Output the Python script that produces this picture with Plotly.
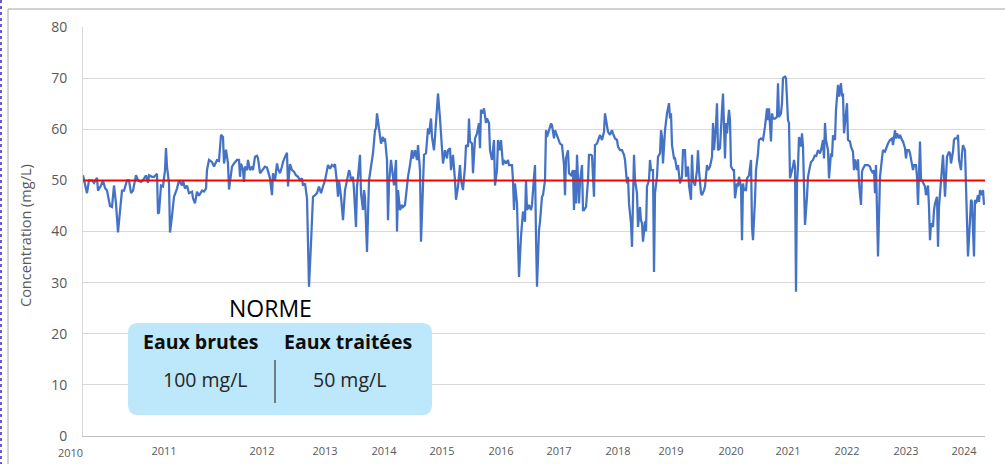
import plotly.graph_objects as go

# ---------------- data ----------------
# sample number along the category axis (one measurement per sample)
sample_no = [
    0, 2, 4, 6, 9, 11, 14, 15, 18, 20, 22, 24, 27, 29, 31, 33, 35, 37, 39, 41, 44, 46, 48, 50, 53,
    55, 58, 60, 63, 65, 66, 69, 71, 74, 75, 76, 78, 80, 82, 83, 84, 86, 87, 89, 91, 94, 96, 99, 100, 102,
    104, 106, 109, 110, 112, 114, 116, 119, 121, 123, 124, 126, 129, 131, 134, 136, 138, 140, 141, 143, 145, 146, 149, 151,
    154, 156, 157, 158, 160, 161, 162, 164, 165, 167, 169, 170, 172, 174, 175, 177, 179, 182, 184, 185,
    187, 189, 190, 192, 194, 195, 197, 199, 200, 202, 204, 205, 207, 209, 211, 213, 215, 217, 219, 220,
    222, 224, 225, 226, 228, 230, 232, 234, 236, 238, 240, 242, 244, 245, 247, 249, 251, 252, 254, 255,
    256, 258, 260, 261, 262, 264, 266, 267, 268, 270, 271, 273, 274, 275, 277, 278, 280, 281, 282, 284,
    285, 286, 288, 290, 292, 293, 294, 296, 298, 300, 301,
    302, 304, 305, 306, 308, 309, 311, 313, 314, 315, 317, 319, 320, 322, 324, 325, 327, 329, 330, 332,
    334, 335, 337, 338, 340, 341, 343, 345, 346, 348, 349, 351, 352, 354, 355, 357, 359, 360, 362, 364,
    365, 367, 368, 370, 372, 373, 375, 377, 378, 380, 382, 383, 385, 386, 387, 389, 390, 392, 394, 396,
    397, 398, 400, 401, 403, 404, 406, 407, 409, 411, 412, 414, 415, 417, 418, 420, 421, 423, 425, 426,
    429, 430, 431, 432, 434, 435, 436, 438, 439, 440, 442, 443, 444, 446, 448, 449, 451,
    452, 453, 454, 456, 457, 459, 460, 462, 463, 464, 466, 468, 469, 471, 472, 474, 476, 477, 479, 481,
    482, 483, 485, 486, 488, 490, 491, 492, 493, 494, 496, 497, 499, 500, 501, 503, 505, 506, 508, 509,
    511, 512, 514, 515, 517, 519, 520, 521, 522, 524, 525, 527, 529, 530, 532, 534, 535, 537, 539, 541,
    542, 544, 545, 546, 548, 549, 550, 551, 552, 554, 555, 557, 558, 559, 560, 562, 563, 564, 566, 567,
    568, 570, 571, 572, 574, 575, 577, 578, 579, 580, 582, 583, 584, 586, 587, 588, 589, 591, 592, 594,
    595, 597, 599, 600,
    602, 603, 605, 606, 608, 609, 610, 612, 614, 615, 616, 618, 619, 621, 622, 624, 625, 627, 629, 630,
    631, 633, 634, 635, 637, 639, 640, 642, 643, 644, 646, 647, 648, 650, 651, 652, 654, 655, 656, 658,
    659, 660, 661, 663, 664, 666, 668, 669, 670, 672, 673, 675, 676, 678, 680, 681, 682, 684, 685, 686,
    688, 689, 690, 692, 694, 695, 696, 698, 699, 700, 702, 703, 705, 706, 707, 709, 710, 711, 712, 713,
    714, 715, 716, 718, 719, 720, 721, 722, 724, 725, 727, 728, 730, 732, 733, 735, 737, 738, 740, 741,
    742, 743, 745, 746, 748, 749, 750,
    752, 753, 755, 756, 758, 759, 760, 761, 763, 764, 765, 767, 768, 770, 771, 772, 774, 775, 776, 778,
    779, 780, 782, 784, 785, 787, 788, 790, 791, 792, 793, 795, 796, 797, 799, 800, 802, 804, 805, 807,
    809, 810, 812, 813, 814, 816, 817, 819, 820, 822, 823, 824, 826, 827, 829, 830, 831, 833, 834, 835,
    837, 838, 839, 841, 842, 843, 845, 846, 847, 848, 850, 851, 852, 854, 855, 856, 858, 859, 860, 862,
    863, 864, 866, 867, 868, 870, 871, 872, 874, 875, 876, 878, 879, 880, 882, 883, 884, 885, 887, 888,
    889, 891, 892, 893, 895, 896, 897, 899, 900, 901,
]

# concentration in mg/L
concentration = [
    51, 49, 47.5, 50, 50, 49.5, 50.5, 48, 49, 50, 48.5, 48, 45, 44.8, 49, 45.5, 39.8, 44, 48, 48, 50, 50, 47.5, 48, 51,
    50, 49.7, 50, 51, 49.5, 51, 50.7, 50.7, 51.3, 43.5, 43.7, 49, 48.8, 52, 56.3, 52.7, 49.4, 39.8, 43, 46.8, 48.4, 50, 49, 50, 48.4,
    49, 47.5, 47.8, 46.5, 45.5, 47.8, 47, 48, 47.8, 48.4, 52, 54, 53.6, 52.7, 54, 53.8, 58.9, 58.5, 53.3, 56, 53.3, 48.2, 52.7, 53.3,
    54, 54, 50.7, 53.3, 52, 49.7, 52.7, 52, 54, 52, 52.7, 52, 54.6, 54.8, 54.3, 51.4, 52, 52.7, 52.5, 51.7,
    50.4, 47.1, 51.4, 50, 53.3, 52.3, 51.4, 52.7, 53.6, 54.6, 55.4, 48.8, 53.2, 52, 51.7, 51, 50.7, 50, 50.4, 49,
    49.4, 46.5, 39, 29.2, 37.7, 46.8, 47.1, 47.5, 48.8, 47.5, 48.8, 50, 52, 53, 52.3, 53, 52.7, 53.2, 49.4, 46.8,
    50, 46.8, 42.2, 46.8, 48.1, 50, 52, 51.4, 50, 50.7, 48.1, 40.9, 48.8, 50.7, 55, 47.5, 44.2, 48.1, 46.8, 36,
    46.8, 50, 52.7, 55.3, 59.8, 60.2, 63.1, 59.8, 57.2, 58.5, 57.6,
    58.2, 54, 42.2, 49.4, 54, 52, 49, 54, 40, 48.1, 44.2, 45.2, 44.8, 45.2, 49.7, 50.7, 53, 55.9, 54.3, 55.9,
    54, 56.9, 52, 38, 49, 55, 55.3, 60.2, 59, 62.1, 58.5, 55.9, 58.5, 64.1, 67, 62.1, 55.3, 53.3, 55.9, 54.3,
    55.9, 56.3, 52, 55, 50, 46.2, 48.8, 53, 50, 48.1, 52.7, 56.9, 56.6, 62.1, 57.6, 57.2, 51.4, 58.2, 59.2, 61.2,
    56.3, 63.8, 63.1, 64.1, 61.2, 62.1, 61.2, 55.9, 54, 57.9, 49, 52, 57.9, 55.9, 57.9, 53, 54, 53.3, 54, 53,
    53, 50, 44.2, 49.4, 45.5, 39, 31.1, 39, 42.9, 43.9, 41.9, 50, 44.2, 45.2, 44.2, 45.2, 50.7,
    53, 39, 29.2, 40.3, 41.9, 46.8, 47.1, 50, 59.8, 58.5, 59.8, 61.1, 60.8, 58.2, 59.8, 58.8, 57.9, 57.2, 56.9, 53,
    47.1, 54.3, 55.9, 51.4, 51, 52, 44.2, 52, 45.5, 55, 45.5, 49.7, 53, 44.2, 44.2, 44.8, 50, 55, 55, 54.8,
    46.8, 56.9, 57.2, 57.9, 58.9, 57.9, 58.9, 59.5, 63.1, 60.2, 59.5, 58.9, 59.8, 59.2, 58.2, 57.9, 56.6, 55.9, 55.9, 55,
    54, 49.4, 50.7, 45.5, 41.6, 37, 47.5, 55, 50, 47.5, 40.9, 44.8, 42.2, 41.6, 38, 42, 40, 48.8, 50, 54,
    52, 52, 32.1, 47.5, 50.7, 54.6, 55.3, 59.8, 58.5, 53.3, 59.8, 62.4, 63.1, 65.1, 62.1, 63.1, 56.9, 54.3, 54.3, 52,
    53, 49.4, 50.7, 55.9,
    55.9, 50.7, 52.7, 49, 46.2, 55, 50, 49, 52, 55.9, 52, 47.5, 47.1, 48.1, 48.8, 53, 52, 52.7, 54.6, 61.2,
    55.9, 60.8, 65.1, 55.9, 56.3, 63.8, 67, 54.3, 61.2, 59.2, 63.8, 61.8, 52.7, 52, 52, 46.5, 49.4, 48.8, 50.7, 48.8,
    38.3, 49.4, 48.1, 48.1, 50.4, 51, 54, 40.9, 38.3, 46.2, 52, 55.3, 57.9, 58.2, 57.9, 59.2, 60.5, 64.1, 61.8, 64.1,
    57.6, 63.1, 62.1, 62.1, 62.4, 69, 62.4, 63.1, 65.1, 70, 70.3, 70, 61.8, 61.2, 50.4, 52, 52.7, 54, 52.7, 28.2,
    49.4, 52.7, 58.5, 56.6, 59.2, 56.6, 48.8, 41.3, 46.8, 50.7, 52.7, 53.6, 54, 55, 54.6, 55.9, 55.3, 55.9, 57.9, 54.3,
    61.2, 57.9, 55.9, 50.4, 55.3, 54.6, 58.8,
    57.9, 63.8, 68.7, 66.4, 69, 66.4, 67, 59.2, 63.1, 65.1, 57.9, 57.6, 56.6, 55.6, 52, 54.1, 52, 54.1, 49.4, 45.2,
    51.7, 52.3, 53, 53, 53, 52.7, 52, 51.4, 52, 47.5, 53, 35.1, 45.5, 50.7, 54.3, 55.9, 55.6, 56.9, 57.2, 57.9,
    58.2, 56.9, 59.8, 58.2, 59.2, 58.2, 58.9, 57.9, 57.6, 56.3, 54.3, 55.9, 55.9, 55.3, 53, 52, 53, 53, 50.7, 45.2,
    57.6, 50, 50, 49, 48.8, 47.1, 49, 44.8, 38.3, 41.6, 40.9, 44.2, 45.5, 46.8, 37, 44.8, 50, 54, 55, 46.8,
    50, 54.6, 55.6, 55.3, 53.3, 55.6, 57.9, 58.2, 58.2, 58.9, 54, 52, 55.3, 56.9, 55.9, 50, 42.2, 35.1, 42.2, 46.2,
    45.8, 35.1, 46.2, 45.5, 47.1, 45.8, 48.1, 47.1, 48.1, 45.2,
]

n_samples = 902                       # length of the category axis
norme_eaux_traitees = 50              # mg/L (red line)
norme_eaux_brutes = 100               # mg/L (text only)

year_labels = ["2011", "2012", "2013", "2014", "2015", "2016", "2017",
               "2018", "2019", "2020", "2021", "2022", "2023", "2024"]
year_first_sample = [81, 179, 242, 301, 359, 418, 476, 535, 588, 648, 705, 764, 823, 881]
first_year_label = "2010"

y_ticks = [0, 10, 20, 30, 40, 50, 60, 70, 80]

# ---------------- layout geometry (pixels) ----------------
W, H = 1005, 464
PL, PR, PT, PB = 83, 985, 27, 436


def px(x):
    return (x - PL) / (PR - PL)


def py(y):
    return (PB - y) / (PB - PT)


fig = go.Figure()
fig.add_trace(go.Scatter(
    x=sample_no, y=concentration, mode="lines",
    line=dict(color="#4472C4", width=2.25), showlegend=False, hoverinfo="skip"))
fig.add_trace(go.Scatter(
    x=[0, n_samples], y=[norme_eaux_traitees, norme_eaux_traitees], mode="lines",
    line=dict(color="#FF0000", width=2), showlegend=False, hoverinfo="skip"))

fig.update_layout(
    width=W, height=H,
    margin=dict(l=PL, r=W - PR, t=PT, b=H - PB, autoexpand=False),
    paper_bgcolor="white", plot_bgcolor="white",
    font=dict(family="Open Sans", color="#595959"),
    showlegend=False,
)
fig.update_xaxes(
    range=[0, n_samples], tickmode="array", tickvals=year_first_sample, ticktext=year_labels,
    showgrid=False, zeroline=False, showline=True, linecolor="#BFBFBF", linewidth=1,
    tickfont=dict(size=11, color="#595959"), ticks="outside", ticklen=5,
    tickcolor="rgba(0,0,0,0)", automargin=False,
)
fig.update_yaxes(
    range=[0, 80], tickmode="array", tickvals=y_ticks,
    showgrid=True, gridcolor="#D9D9D9", gridwidth=1, zeroline=False,
    showline=True, linecolor="#D9D9D9", linewidth=1,
    tickfont=dict(size=14, color="#595959"), ticks="outside", ticklen=12,
    tickcolor="rgba(0,0,0,0)", automargin=False,
)

# rounded box path
x0, x1, y0, y1, r = 128, 432, 323, 415, 10
path = (
    f"M {px(x0 + r)},{py(y0)} L {px(x1 - r)},{py(y0)} Q {px(x1)},{py(y0)} {px(x1)},{py(y0 + r)} "
    f"L {px(x1)},{py(y1 - r)} Q {px(x1)},{py(y1)} {px(x1 - r)},{py(y1)} "
    f"L {px(x0 + r)},{py(y1)} Q {px(x0)},{py(y1)} {px(x0)},{py(y1 - r)} "
    f"L {px(x0)},{py(y0 + r)} Q {px(x0)},{py(y0)} {px(x0 + r)},{py(y0)} Z"
)

fig.update_layout(shapes=[
    dict(type="rect", xref="paper", yref="paper", x0=px(8), x1=px(1012), y0=py(9), y1=py(472),
         line=dict(color="#A6A6A6", width=1), fillcolor="rgba(0,0,0,0)", layer="below"),
    dict(type="line", xref="paper", yref="paper", x0=px(1), x1=px(1), y0=py(0), y1=py(464),
         line=dict(color="#6A5ACD", width=2, dash="dot")),
    dict(type="path", xref="paper", yref="paper", path=path,
         fillcolor="#BDE7FA", line=dict(width=0), layer="above"),
    dict(type="line", xref="paper", yref="paper", x0=px(275), x1=px(275), y0=py(360), y1=py(403),
         line=dict(color="#595959", width=1.5)),
])

ann = [
    dict(text="Concentration (mg/L)", x=px(25), y=py(236), textangle=-90,
         font=dict(size=14.5, color="#595959")),
    dict(text=first_year_label, x=px(70), y=py(452), font=dict(size=11, color="#595959")),
    dict(text="NORME", x=px(270), y=py(308), font=dict(size=23, color="#000000")),
    dict(text="<b>Eaux brutes</b>", x=px(201), y=py(341), font=dict(size=19.5, color="#0D0D0D")),
    dict(text="<b>Eaux traitées</b>", x=px(348), y=py(341), font=dict(size=19.5, color="#0D0D0D")),
    dict(text=f"{norme_eaux_brutes} mg/L", x=px(205), y=py(379), font=dict(size=19.5, color="#262626")),
    dict(text=f"{norme_eaux_traitees} mg/L", x=px(349), y=py(379), font=dict(size=19.5, color="#262626")),
]
for a in ann:
    a.update(xref="paper", yref="paper", showarrow=False, xanchor="center", yanchor="middle")
fig.update_layout(annotations=ann)

fig.write_html(
    "out.html",
    config={"displayModeBar": False},
    post_script="document.body.style.margin='0';document.body.style.overflow='hidden';",
)
